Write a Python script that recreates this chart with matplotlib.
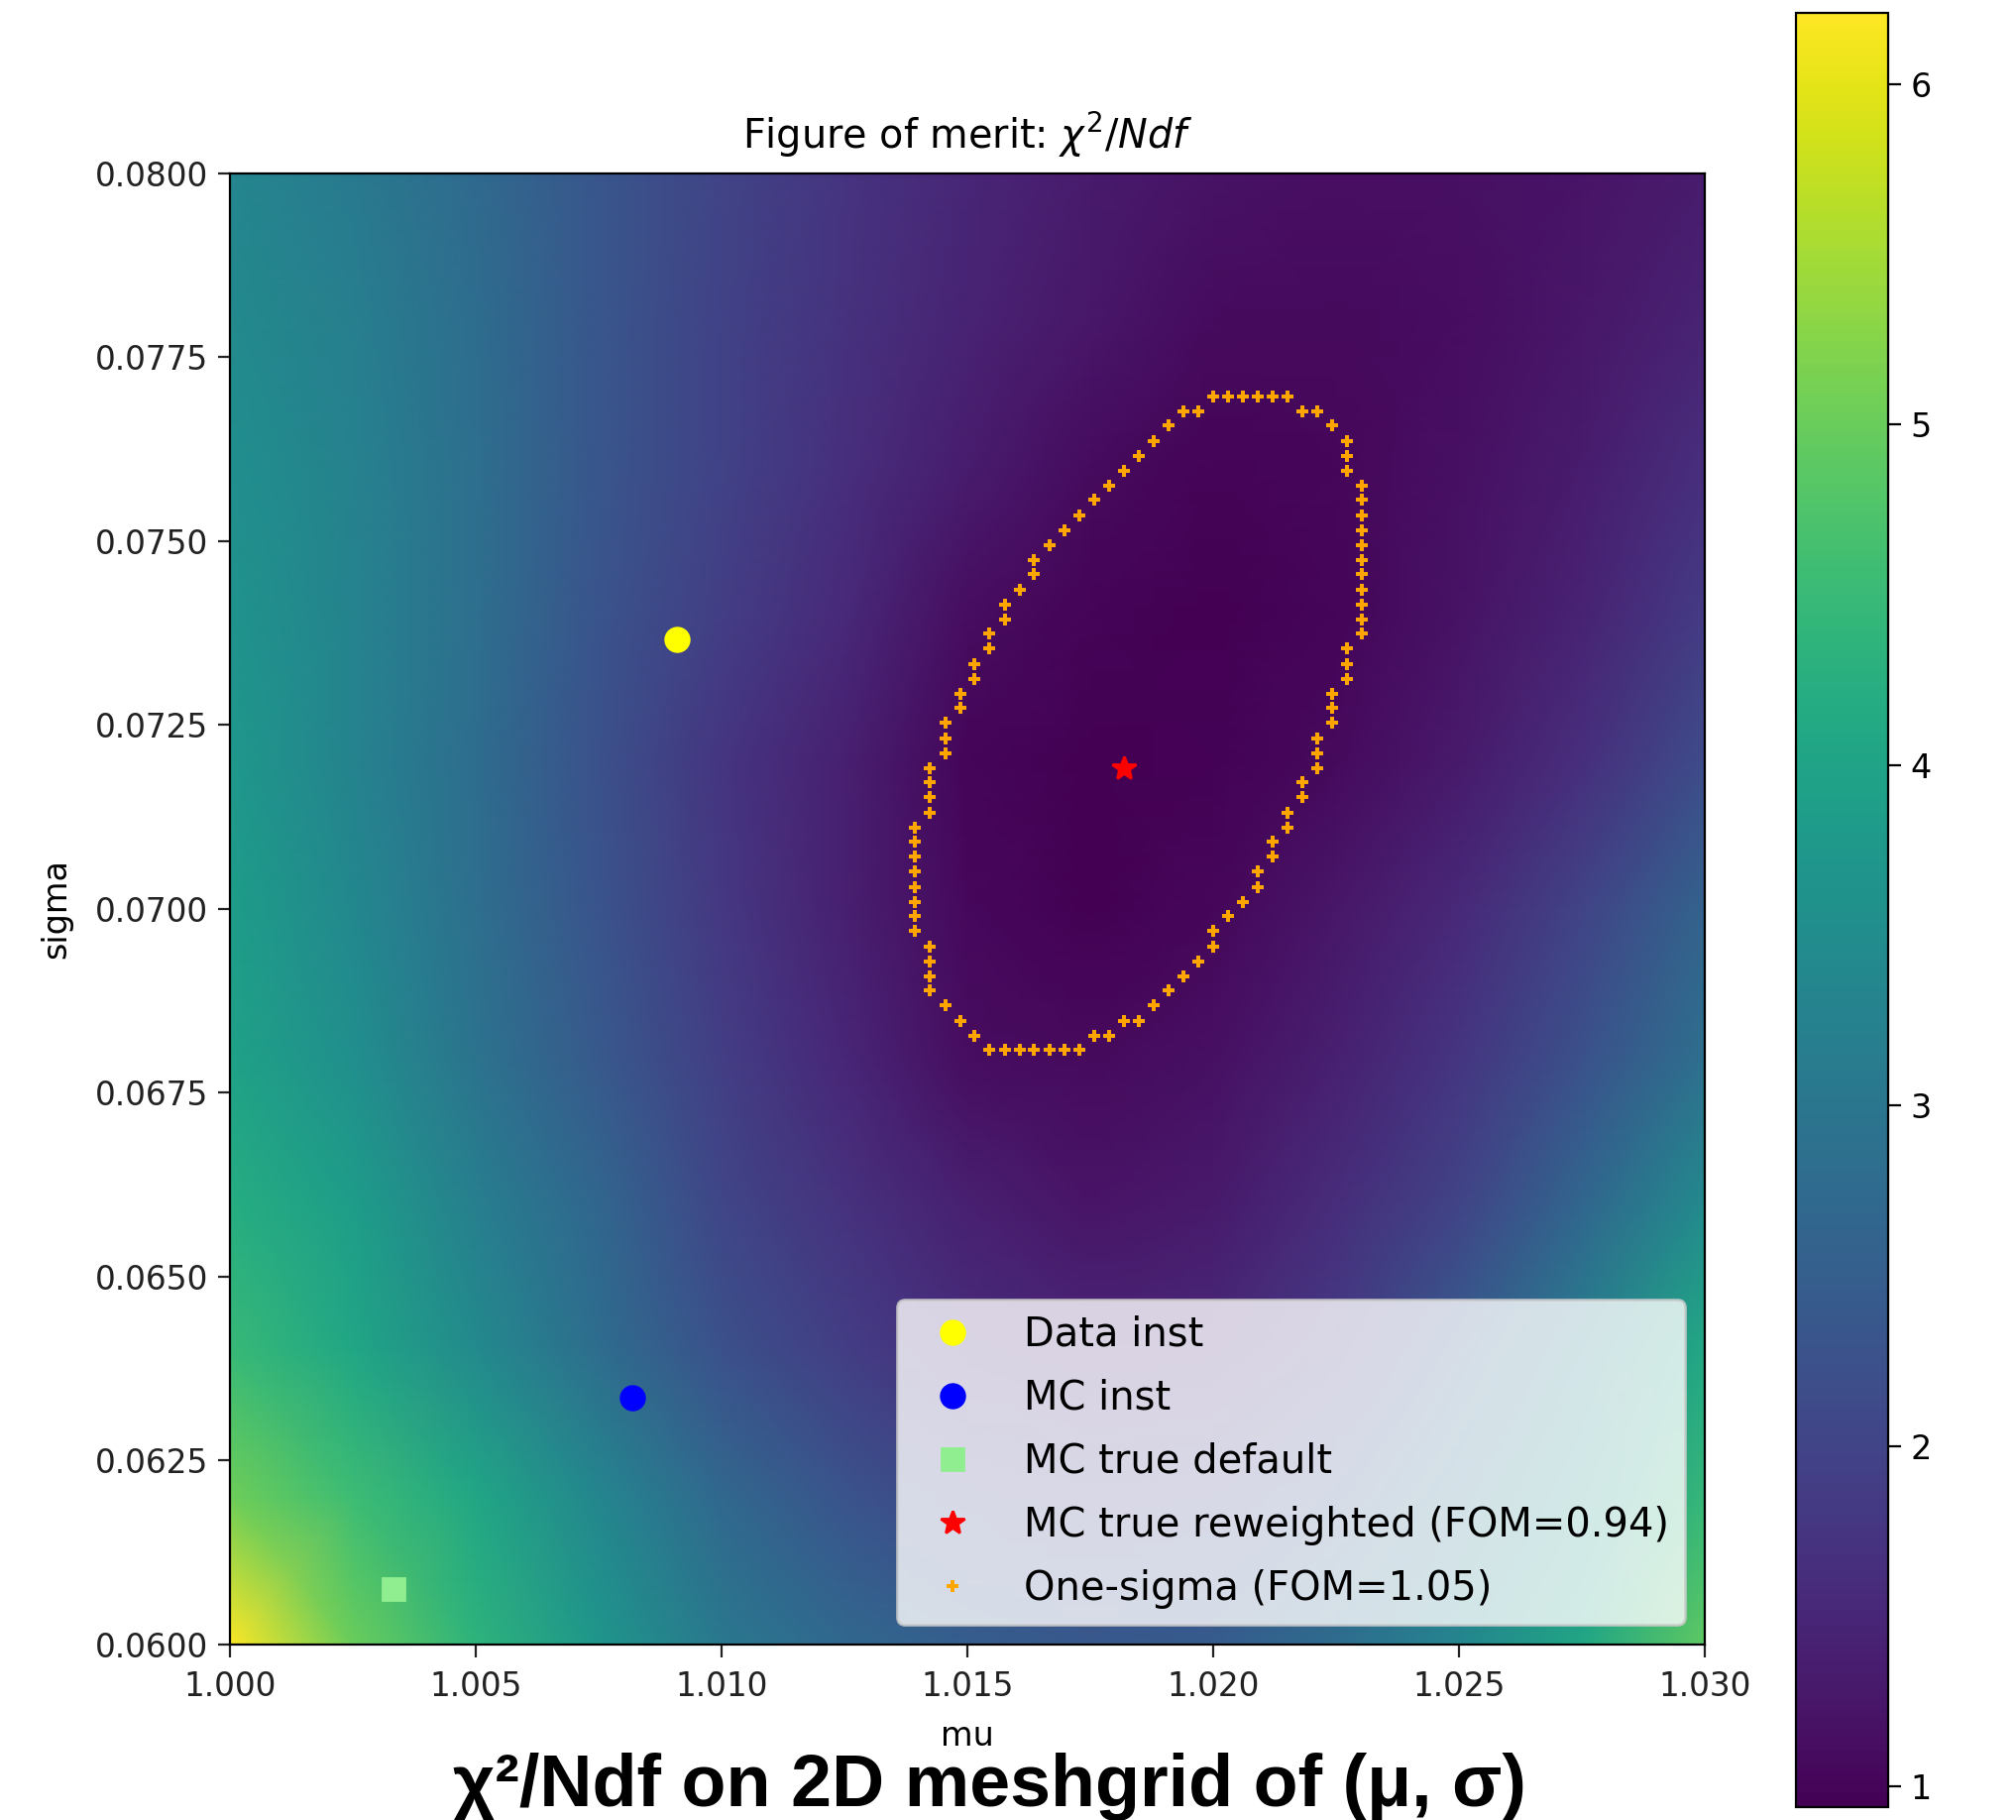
import numpy as np
import matplotlib
matplotlib.use("Agg")
import matplotlib.pyplot as plt

# sample points of the chi2/Ndf map
mu_vals = [1.000, 1.0025, 1.005, 1.0075, 1.010, 1.0125, 1.015,
           1.0175, 1.020, 1.0225, 1.025, 1.0275, 1.030]
sigma_vals = [0.060, 0.062, 0.064, 0.066, 0.068, 0.070,
              0.072, 0.074, 0.076, 0.078, 0.080]

# one row per sigma value, bottom to top
fom = [
    [6.20, 5.00, 4.35, 3.70, 3.05, 2.70, 2.50, 2.40, 2.45, 2.80, 3.35, 4.05, 4.90],
    [5.05, 4.55, 4.05, 3.35, 2.70, 2.30, 2.05, 1.95, 2.00, 2.35, 2.90, 3.60, 4.45],
    [4.50, 4.05, 3.45, 2.80, 2.25, 1.90, 1.60, 1.50, 1.55, 1.85, 2.45, 3.20, 4.10],
    [4.20, 3.85, 3.20, 2.65, 2.05, 1.70, 1.40, 1.22, 1.30, 1.60, 2.00, 2.65, 3.45],
    [3.95, 3.55, 2.95, 2.40, 1.90, 1.50, 1.12, 1.07, 1.15, 1.40, 1.75, 2.25, 2.85],
    [3.85, 3.40, 2.85, 2.30, 1.80, 1.40, 1.05, 0.96, 1.03, 1.25, 1.55, 2.00, 2.60],
    [3.75, 3.30, 2.80, 2.25, 1.75, 1.40, 1.02, 0.94, 0.97, 1.08, 1.30, 1.65, 2.15],
    [3.65, 3.30, 2.85, 2.30, 1.90, 1.55, 1.12, 0.99, 0.96, 1.02, 1.20, 1.45, 1.85],
    [3.55, 3.25, 2.85, 2.35, 1.97, 1.65, 1.35, 1.10, 1.00, 1.04, 1.15, 1.35, 1.65],
    [3.45, 3.20, 2.80, 2.35, 1.98, 1.70, 1.45, 1.25, 1.10, 1.07, 1.12, 1.25, 1.45],
    [3.35, 3.10, 2.75, 2.35, 2.00, 1.73, 1.50, 1.33, 1.20, 1.14, 1.15, 1.22, 1.35],
]
fom_min, fom_max = 0.94, 6.21

# single points
data_inst = (1.00909, 0.07367)
mc_inst = (1.00819, 0.06336)
mc_true_default = (1.00333, 0.06075)
mc_true_rew = (1.01818, 0.07192)

# one-sigma grid points (FOM = 1.05), row by row
onesig_sigma = [0.07697, 0.07677, 0.07657, 0.07636, 0.07616, 0.07596, 0.07576,
                0.07556, 0.07535, 0.07515, 0.07495, 0.07475, 0.07455, 0.07434,
                0.07414, 0.07394, 0.07374, 0.07354, 0.07333, 0.07313, 0.07293,
                0.07273, 0.07253, 0.07232, 0.07212, 0.07192, 0.07172, 0.07152,
                0.07131, 0.07111, 0.07091, 0.07071, 0.07051, 0.07030, 0.07010,
                0.06990, 0.06970, 0.06949, 0.06929, 0.06909, 0.06889, 0.06869,
                0.06848, 0.06828, 0.06808]
onesig_mu = [
    [1.02000, 1.02030, 1.02061, 1.02091, 1.02121, 1.02152],
    [1.01939, 1.01970, 1.02182, 1.02212],
    [1.01909, 1.02242], [1.01879, 1.02273], [1.01848, 1.02273],
    [1.01818, 1.02273], [1.01788, 1.02303], [1.01758, 1.02303],
    [1.01727, 1.02303], [1.01697, 1.02303], [1.01667, 1.02303],
    [1.01636, 1.02303], [1.01636, 1.02303], [1.01606, 1.02303],
    [1.01576, 1.02303], [1.01576, 1.02303], [1.01545, 1.02303],
    [1.01545, 1.02273], [1.01515, 1.02273], [1.01515, 1.02273],
    [1.01485, 1.02242], [1.01485, 1.02242], [1.01455, 1.02242],
    [1.01455, 1.02212], [1.01455, 1.02212], [1.01424, 1.02212],
    [1.01424, 1.02182], [1.01424, 1.02182], [1.01424, 1.02152],
    [1.01394, 1.02152], [1.01394, 1.02121], [1.01394, 1.02121],
    [1.01394, 1.02091], [1.01394, 1.02091], [1.01394, 1.02061],
    [1.01394, 1.02030], [1.01394, 1.02000], [1.01424, 1.02000],
    [1.01424, 1.01970], [1.01424, 1.01939], [1.01424, 1.01909],
    [1.01455, 1.01879],
    [1.01485, 1.01818, 1.01848],
    [1.01515, 1.01758, 1.01788],
    [1.01545, 1.01576, 1.01606, 1.01636, 1.01667, 1.01697, 1.01727],
]

ring_x = [m for row in onesig_mu for m in row]
ring_y = [s for s, row in zip(onesig_sigma, onesig_mu) for _ in row]

fig = plt.figure(figsize=(10.17, 9.18), dpi=200)
ax = fig.add_axes([0.11406, 0.09641, 0.73156, 0.80828])
cax = fig.add_axes([0.89086, 0.00708, 0.04572, 0.98600])

MU, SIG = np.meshgrid(mu_vals, sigma_vals)
mesh = ax.pcolormesh(MU, SIG, np.array(fom), shading="gouraud",
                     cmap="viridis", vmin=fom_min, vmax=fom_max)

ax.plot(*data_inst, "o", color="yellow", ms=8.5, ls="none", label="Data inst")
ax.plot(*mc_inst, "o", color="blue", ms=8.5, ls="none", label="MC inst")
ax.plot(*mc_true_default, "s", color="lightgreen", ms=8, ls="none",
        label="MC true default")
ax.plot(*mc_true_rew, "*", color="red", ms=9, ls="none",
        label="MC true reweighted (FOM=0.94)")
ax.plot(ring_x, ring_y, "P", color="orange", ms=4.2, mew=0, ls="none",
        label="One-sigma (FOM=1.05)")

ax.set_xlim(1.000, 1.030)
ax.set_ylim(0.060, 0.080)
ax.set_xticks(np.arange(1.000, 1.0301, 0.005))
ax.set_yticks(np.arange(0.0600, 0.08001, 0.0025))
ax.set_yticklabels([f"{v:.4f}" for v in np.arange(0.0600, 0.08001, 0.0025)])
ax.tick_params(labelsize=11.8, length=4.5, colors="#222222")
ax.tick_params(axis="x", pad=5)
ax.set_xlabel("mu", fontsize=12, labelpad=6)
ax.set_ylabel("sigma", fontsize=12, labelpad=8)
ax.set_title(r"Figure of merit: $\chi^2/Ndf$", fontsize=14.3, pad=9)

ax.legend(loc="lower right", fontsize=14.4, labelspacing=0.6)

cb = fig.colorbar(mesh, cax=cax)
cb.set_ticks([1, 2, 3, 4, 5, 6])
cb.ax.tick_params(labelsize=12, length=4.5)

fig.text(0.491, 0.0076, "χ²/Ndf on 2D meshgrid of (μ, σ)", ha="center",
         va="baseline", fontsize=26.5, fontweight="bold",
         family=["Liberation Sans", "DejaVu Sans"])

fig.savefig("out.png", dpi=200)
